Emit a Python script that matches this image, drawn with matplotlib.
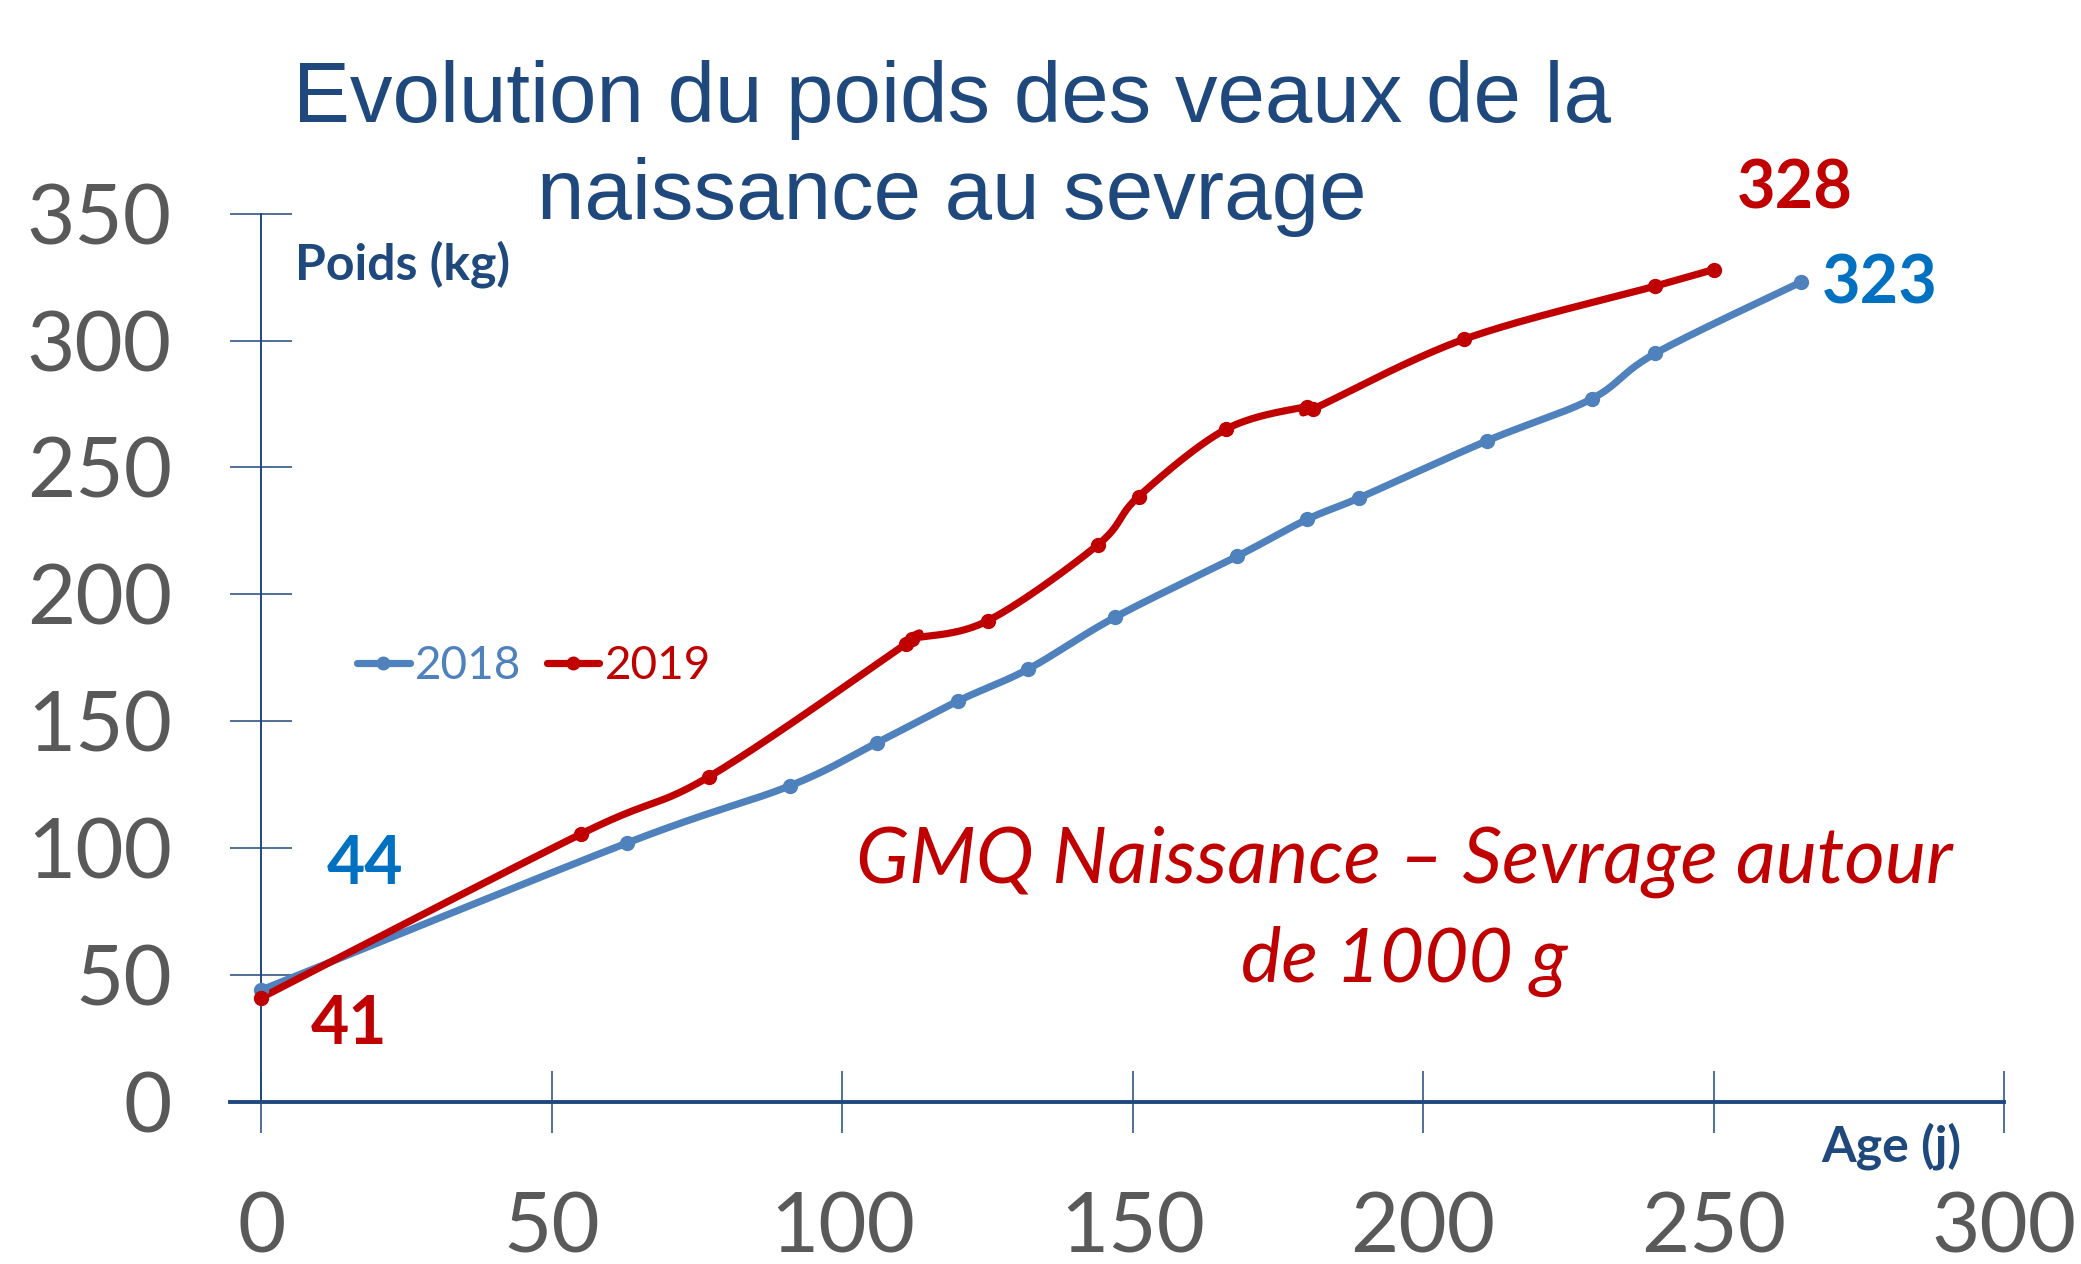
import numpy as np
import matplotlib.pyplot as plt

# poids moyen des veaux (kg) selon l'age (jours)
age_2018 = [0, 63, 91, 106, 120, 132, 147, 168, 180, 189, 211, 229, 240, 265]
poids_2018 = [44, 102, 124.5, 141.5, 158, 170.5, 191, 215, 229.5, 238, 260.5, 277, 295, 323]
age_2019 = [0, 55, 77, 111, 112, 125, 144, 151, 166, 180, 181, 207, 240, 250]
poids_2019 = [41, 105.5, 128, 180.5, 182.5, 189.5, 219.5, 238.5, 265, 274, 273, 300.5, 321.5, 328]

x_ticks = [0, 50, 100, 150, 200, 250, 300]
y_ticks = [0, 50, 100, 150, 200, 250, 300, 350]

BLUE = '#4F81BD'
RED = '#C00000'
DARK = '#1F497D'
GREY = '#595959'


def smooth(x, y, n=40):
    # courbe lissee facon Excel (bezier / catmull-rom)
    pts = np.column_stack([x, y]).astype(float)
    p = np.vstack([pts[0], pts, pts[-1]])
    t = np.linspace(0, 1, n)[:, None]
    segs = []
    for i in range(1, len(p) - 2):
        p0, p1, p2, p3 = p[i - 1], p[i], p[i + 1], p[i + 2]
        c1 = p1 + (p2 - p0) / 6
        c2 = p2 - (p3 - p1) / 6
        segs.append((1 - t) ** 3 * p1 + 3 * (1 - t) ** 2 * t * c1
                    + 3 * (1 - t) * t ** 2 * c2 + t ** 3 * p2)
    out = np.vstack(segs)
    return out[:, 0], out[:, 1]


fig = plt.figure(figsize=(20.81, 12.64), dpi=100)
ax = fig.add_axes([0.1103, 0.1285, 0.963 - 0.1103, 0.8309 - 0.1285])

for ages, poids, col, lab in [(age_2018, poids_2018, BLUE, '2018'),
                              (age_2019, poids_2019, RED, '2019')]:
    sx, sy = smooth(ages, poids)
    ax.plot(sx, sy, color=col, lw=5.2, solid_capstyle='round', zorder=3)
    ax.plot(ages, poids, 'o', color=col, ms=10, zorder=4)
    ax.plot([], [], '-o', color=col, lw=5.2, ms=9, label=lab,
            solid_capstyle='round')

ax.set_xlim(-5.5, 300)
ax.set_ylim(0, 350)
ax.spines['left'].set_position(('data', 0))
ax.spines['left'].set_bounds(0, 350)
ax.spines['bottom'].set_position(('data', 0))
ax.spines['right'].set_visible(False)
ax.spines['top'].set_visible(False)
ax.spines['left'].set_color(DARK)
ax.spines['left'].set_linewidth(1.4)
ax.spines['bottom'].set_color(DARK)
ax.spines['bottom'].set_linewidth(2.8)
ax.set_xticks(x_ticks)
ax.set_yticks(y_ticks)
ax.tick_params(direction='inout', length=45, width=1.1, color=DARK,
               labelsize=60, labelcolor=GREY, pad=42)
for lab in ax.get_xticklabels() + ax.get_yticklabels():
    lab.set_fontfamily('Lato')
ax.patch.set_visible(False)

leg = ax.legend(loc='center left', bbox_to_anchor=(0.1715, 0.473),
                bbox_transform=fig.transFigure, ncol=2, frameon=False,
                handlelength=1.15, handletextpad=0.12,
                columnspacing=0.55, borderpad=0, borderaxespad=0,
                labelcolor='linecolor',
                prop={'family': 'Lato', 'size': 33})

fig.text(0.4573, 0.9034, 'Evolution du poids des veaux de la', ha='center',
         va='baseline', fontsize=61.4, color=DARK, family='Liberation Sans')
fig.text(0.4573, 0.8267, 'naissance au sevrage', ha='center',
         va='baseline', fontsize=61.4, color=DARK, family='Liberation Sans')

fig.text(0.1416, 0.7785, 'Poids (kg)', ha='left', va='baseline',
         fontsize=36, fontweight='bold', color=DARK, family='Lato')
fig.text(0.875, 0.0814, 'Age (j)', ha='left', va='baseline',
         fontsize=36, fontweight='bold', color=DARK, family='Lato')

fig.text(0.1754, 0.3156, '44', ha='center', va='center', fontsize=47.5,
         fontweight='bold', color='#0070C0', family='Lato')
fig.text(0.1678, 0.1894, '41', ha='center', va='center', fontsize=47.5,
         fontweight='bold', color=RED, family='Lato')
fig.text(0.8622, 0.8498, '328', ha='center', va='center', fontsize=48,
         fontweight='bold', color=RED, family='Lato')
fig.text(0.9031, 0.7753, '323', ha='center', va='center', fontsize=48,
         fontweight='bold', color='#0070C0', family='Lato')

fig.text(0.6748, 0.3017, 'GMQ Naissance \u2013 Sevrage autour', ha='center',
         va='baseline', fontsize=56, style='italic', color=RED, family='Lato')
fig.text(0.6748, 0.2231, 'de 1000 g', ha='center', va='baseline',
         fontsize=55, style='italic', color=RED, family='Lato')

fig.savefig('out.png', dpi=100)
